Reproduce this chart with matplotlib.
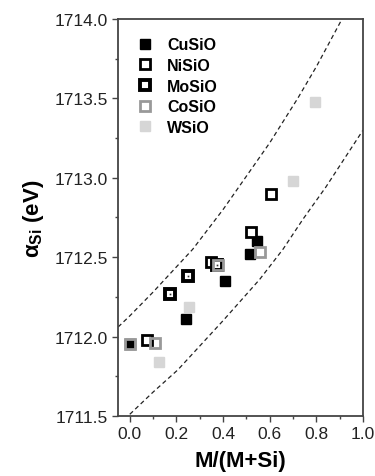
import numpy as np
import matplotlib
matplotlib.use("Agg")
import matplotlib.pyplot as plt

plt.rcParams['font.family'] = ['Liberation Sans', 'DejaVu Sans']
plt.rcParams['mathtext.fontset'] = 'custom'
plt.rcParams['mathtext.rm'] = 'Liberation Sans'
plt.rcParams['mathtext.it'] = 'Liberation Sans:italic'
plt.rcParams['mathtext.bf'] = 'Liberation Sans:bold'

# Data
cu_x = [0.0, 0.243, 0.407, 0.514, 0.546]
cu_y = [1711.95, 1712.11, 1712.35, 1712.52, 1712.60]
ni_x = [0.074, 0.35, 0.52, 0.607]
ni_y = [1711.975, 1712.47, 1712.66, 1712.90]
mo_x = [0.173, 0.249, 0.375]
mo_y = [1712.27, 1712.38, 1712.45]
co_x = [0.0, 0.11, 0.38, 0.56]
co_y = [1711.95, 1711.96, 1712.45, 1712.535]
w_x = [0.124, 0.256, 0.70, 0.795]
w_y = [1711.84, 1712.185, 1712.98, 1713.48]

# dashed guide curves
upper_x = [-0.05, 0.0, 0.1, 0.27, 0.4, 0.5, 0.6, 0.72, 0.8, 0.91]
upper_y = [1712.06, 1712.13, 1712.28, 1712.55, 1712.80, 1713.01, 1713.22, 1713.50, 1713.70, 1714.0]
lower_x = [0.0, 0.1, 0.206, 0.4, 0.557, 0.657, 0.743, 0.84, 1.0]
lower_y = [1711.51, 1711.65, 1711.79, 1712.10, 1712.36, 1712.55, 1712.74, 1712.94, 1713.30]

fig = plt.figure(figsize=(3.75, 4.77), dpi=100)
ax = fig.add_axes([0.315, 0.126, 0.653, 0.832])

ax.plot(upper_x, upper_y, color='#222222', lw=0.9, dashes=(3.5, 2.5))
ax.plot(lower_x, lower_y, color='#222222', lw=0.9, dashes=(3.5, 2.5))

ms = 7
ax.plot(cu_x, cu_y, 's', ms=ms, mfc='black', mec='black', mew=1, label='CuSiO')
ax.plot(ni_x, ni_y, 's', ms=ms - 0.5, mfc='white', mec='black', mew=2.0, label='NiSiO')
ax.plot(mo_x, mo_y, 's', ms=ms - 0.5, mfc='white', mec='black', mew=2.8, label='MoSiO')
ax.plot(mo_x, mo_y, 's', ms=1.2, mfc='#333333', mec='none')
ax.plot(co_x, co_y, 's', ms=ms - 0.5, mfc='none', mec='#999999', mew=2.0, label='CoSiO')
ax.plot(w_x, w_y, 's', ms=ms, mfc='#d6d6d6', mec='#d6d6d6', mew=1, label='WSiO')

ax.set_xlim(-0.05, 1.0)
ax.set_ylim(1711.5, 1714.0)
ax.set_xticks(np.arange(0, 1.01, 0.2))
ax.set_xticks(np.arange(0.1, 1.0, 0.2), minor=True)
ax.set_yticks(np.arange(1711.5, 1714.01, 0.5))
ax.set_yticks(np.arange(1711.75, 1714.0, 0.5), minor=True)
ax.xaxis.set_major_formatter(matplotlib.ticker.FormatStrFormatter('%.1f'))
ax.yaxis.set_major_formatter(matplotlib.ticker.FormatStrFormatter('%.1f'))
ax.tick_params(which='major', direction='out', length=4, width=1, color='#444444',
               labelsize=12.5, labelcolor='#222222')
ax.tick_params(which='minor', direction='out', length=2.5, width=1, color='#444444')
for s in ax.spines.values():
    s.set_color('#444444')
    s.set_linewidth(1.3)

ax.set_xlabel('M/(M+Si)', fontsize=16, fontweight='bold', labelpad=6)
ax.set_ylabel('α$_{\\mathbf{Si}}$ (eV)', fontsize=16, fontweight='bold', labelpad=6)

leg = ax.legend(loc='upper left', frameon=False, prop={'size': 11.5, 'weight': 'bold'},
                handletextpad=0.9, labelspacing=0.35, borderaxespad=0.0,
                handlelength=1.0, numpoints=1, bbox_to_anchor=(0.05, 0.97))

fig.savefig('out.png', dpi=100)
